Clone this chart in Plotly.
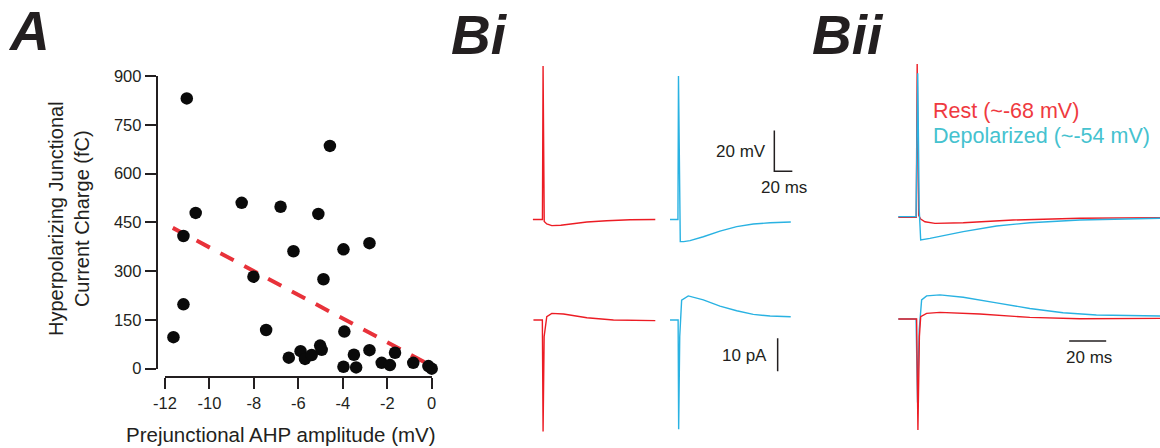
import plotly.graph_objects as go

W, H = 1160, 448

# ---------------- Panel A data ----------------
ahp_mv = [-11.02, -4.58, -8.55, -6.80, -10.62, -5.10, -11.17, -2.80, -6.22, -3.97,
          -8.02, -4.87, -11.17, -11.62, -7.45, -3.93, -6.43, -5.90, -5.70, -5.40,
          -5.02, -4.95, -3.97, -3.50, -3.40, -2.80, -2.25, -1.88, -1.65, -0.83,
          -0.15, 0.0]
charge_fc = [831, 685, 510, 498, 479, 476, 408, 386, 361, 367,
             283, 275, 198, 97, 119, 114, 34, 54, 30, 42,
             71, 58, 6, 43, 4, 57, 18, 11, 49, 18,
             8, 0]
fit_x = [-11.65, -0.15]
fit_y = [433, 14]
x_ticks = [-12, -10, -8, -6, -4, -2, 0]
x_tick_labels = ["-12", "-10", "-8", "-6", "-4", "-2", "0"]
y_ticks = [0, 150, 300, 450, 600, 750, 900]

# ---------------- Panel Bi data (ms, mV relative to baseline, pA) ----------------
bi_rest_v_t = [-11, -2, -0.4, 0.3, 1.0, 1.6, 4.4, 10, 20, 30, 49, 71, 97, 125]
bi_rest_v = [0, 0, 0, 75.6, 2, -1.0, -2.2, -3.0, -2.8, -2.2, -1.2, -0.6, -0.1, 0]
bi_dep_v_t = [-9.2, -1.8, -0.4, 0.2, 1.2, 2.2, 6, 13, 27.8, 46.3, 64.9, 83.3, 102, 125]
bi_dep_v = [0, 0, 0, 70.7, 5, -10.9, -10.9, -10.4, -8.5, -5.7, -3.5, -2.2, -1.6, -1.2]
bi_rest_i_t = [-10.4, -2.3, -0.5, 0.3, 1.5, 4.4, 10, 23, 49, 78.5, 125]
bi_rest_i = [0, 0, 0, -33.8, -5, 1.0, 2.0, 1.8, 0.7, 0, -0.2]
bi_dep_i_t = [-9.2, -1.8, -0.2, 0.4, 1.6, 3.7, 11.1, 27.8, 46.3, 64.9, 83.3, 102, 124.9]
bi_dep_i = [0, 0, 0, -33.1, -5, 6.0, 7.3, 6.1, 4.2, 2.8, 1.7, 1.2, 1.0]

# ---------------- Panel Bii data ----------------
bii_rest_v_t = [-10.1, -1.1, -0.4, 0.1, 0.9, 2.0, 4.3, 9.7, 25, 52, 88, 131.4]
bii_rest_v = [1.1, 1.1, 1.1, 76.6, 2, 0.2, -1.1, -1.9, -1.6, -0.25, 0.6, 0.9]
bii_dep_v_t = [-10.1, -0.5, 0.4, 1.2, 2.0, 7, 25, 43, 61, 88, 131.4]
bii_dep_v = [1.4, 1.4, 72, 5, -10.1, -9.3, -6.0, -3.2, -1.6, -0.25, 0.6]
bii_rest_i_t = [-10.1, -1.1, -0.2, 0.5, 1.3, 2.0, 5.2, 12.4, 34, 61, 88, 131.4]
bii_rest_i = [0.3, 0.3, 0.3, -33.3, -5, 1.0, 2.0, 2.3, 1.8, 0.8, 0.4, 0.5]
bii_dep_i_t = [-10.1, -0.5, 0.3, 1.2, 2.5, 5.2, 12.4, 25, 43, 61, 79, 97, 131.4]
bii_dep_i = [0.3, 0.3, -25, -3, 6.1, 7.3, 7.6, 6.9, 5.2, 3.5, 2.2, 1.5, 1.2]

# scale bars (values)
sb_v_t = [106.7, 106.7, 126.7]
sb_v = [43.8, 23.8, 23.8]
sb_i_t = [110.4, 110.4]
sb_i = [-5.5, -15.5]
sb_ms_t = [82.3, 102.3]
sb_ms_i = [-6.4, -6.4]

RED = "#ec1c24"
CYAN = "#29b2e2"
TXT = "#231f20"
FONT = "Liberation Sans, Arial, sans-serif"


def px(x):
    return x / W


def py(y):
    return 1 - y / H


fig = go.Figure()

# Panel A
fig.add_trace(go.Scatter(x=fit_x, y=fit_y, mode="lines", xaxis="x", yaxis="y",
                         line=dict(color="#e8323a", width=4, dash="15px,12px"),
                         showlegend=False, hoverinfo="skip"))
fig.add_trace(go.Scatter(x=ahp_mv, y=charge_fc, mode="markers", xaxis="x", yaxis="y",
                         marker=dict(color="#0a0a0a", size=12.5), cliponaxis=False,
                         showlegend=False))


def trace(t, v, xa, ya, color, w=1.4):
    fig.add_trace(go.Scatter(x=t, y=v, mode="lines", xaxis=xa, yaxis=ya,
                             line=dict(color=color, width=w), showlegend=False,
                             hoverinfo="skip", cliponaxis=False))


# Bi
trace(bi_rest_v_t, bi_rest_v, "x2", "y2", RED)
trace(bi_rest_i_t, bi_rest_i, "x2", "y3", RED)
trace(bi_dep_v_t, bi_dep_v, "x3", "y2", CYAN)
trace(bi_dep_i_t, bi_dep_i, "x3", "y3", CYAN)
# Bii
trace(bii_rest_v_t, bii_rest_v, "x4", "y2", RED)
trace(bii_dep_v_t, bii_dep_v, "x4", "y2", CYAN)
trace(bii_dep_i_t, bii_dep_i, "x4", "y3", CYAN)
trace(bii_rest_i_t, bii_rest_i, "x4", "y3", RED)
# scale bars
trace(sb_v_t, sb_v, "x3", "y2", TXT, 1.5)
trace(sb_i_t, sb_i, "x3", "y3", TXT, 1.5)
trace(sb_ms_t, sb_ms_i, "x4", "y3", TXT, 1.5)

hidden = dict(visible=False, showgrid=False, zeroline=False, fixedrange=True,
              automargin=False)

fig.update_layout(
    template="none",
    width=W, height=H, margin=dict(l=0, r=0, t=0, b=0, pad=0), autosize=False,
    paper_bgcolor="white", plot_bgcolor="rgba(0,0,0,0)",
    font=dict(family=FONT, color=TXT),
    xaxis=dict(domain=[px(165), px(431.7)], range=[-12, 0], anchor="free",
               position=py(377), tickvals=x_ticks, ticktext=x_tick_labels,
               ticks="outside", ticklen=11,
               tickwidth=1.5, tickcolor=TXT, showline=True, linecolor=TXT,
               linewidth=1.5, showgrid=False, zeroline=False, automargin=False,
               tickfont=dict(size=16.5, color=TXT, family=FONT)),
    yaxis=dict(domain=[py(368.7), py(76)], range=[0, 900], anchor="free",
               position=px(156.5), tickvals=y_ticks, ticks="outside", ticklen=11,
               tickwidth=1.5, tickcolor=TXT, showline=True, linecolor=TXT,
               linewidth=1.5, showgrid=False, zeroline=False, automargin=False,
               tickfont=dict(size=16.5, color=TXT, family=FONT)),
    xaxis2=dict(domain=[px(532.0), px(658.0)], range=[-12, 128], anchor="y2", **hidden),
    xaxis3=dict(domain=[px(667.5), px(793.5)], range=[-12, 128], anchor="y2", **hidden),
    xaxis4=dict(domain=[px(894.8), 1.0], range=[-12, 131.4], anchor="y2", **hidden),
    yaxis2=dict(domain=[py(260), py(40)], range=[-19.95, 88.42], anchor="x2", **hidden),
    yaxis3=dict(domain=[py(440), py(280)], range=[-36.36, 12.12], anchor="x2", **hidden),
)

ann = []
# Axis titles for A
ann.append(dict(x=px(69), y=py(219), xref="paper", yref="paper", showarrow=False,
                text="Hyperpolarizing Junctional<br>Current Charge (fC)", textangle=-90,
                font=dict(size=20, color=TXT, family=FONT), xanchor="center", yanchor="middle"))
ann.append(dict(x=px(281), y=py(434), xref="paper", yref="paper", showarrow=False,
                text="Prejunctional AHP amplitude (mV)",
                font=dict(size=20.5, color=TXT, family=FONT), xanchor="center", yanchor="middle"))
# panel letters
for label, xl, yc in [("A", 6, 31), ("Bi", 449, 35), ("Bii", 810, 35)]:
    ann.append(dict(x=px(xl), y=py(yc), xref="paper", yref="paper", showarrow=False,
                    text=label, xanchor="left", yanchor="middle",
                    font=dict(size=55, color=TXT, family=FONT, weight="bold", style="italic")))
# scale bar labels
ann.append(dict(x=99.7, y=33.3, xref="x3", yref="y2", text="20 mV", showarrow=False,
                xanchor="right", yanchor="middle", font=dict(size=17, color=TXT, family=FONT)))
ann.append(dict(x=116.9, y=16.0, xref="x3", yref="y2", text="20 ms", showarrow=False,
                xanchor="center", yanchor="middle", font=dict(size=17, color=TXT, family=FONT)))
ann.append(dict(x=100.8, y=-10.9, xref="x3", yref="y3", text="10 pA", showarrow=False,
                xanchor="right", yanchor="middle", font=dict(size=17, color=TXT, family=FONT)))
ann.append(dict(x=93, y=-11.3, xref="x4", yref="y3", text="20 ms", showarrow=False,
                xanchor="center", yanchor="middle", font=dict(size=17, color=TXT, family=FONT)))
# legend texts
ann.append(dict(x=7.5, y=53.6, xref="x4", yref="y2", text="Rest (~-68 mV)", showarrow=False,
                xanchor="left", yanchor="middle", font=dict(size=21.5, color="#ef3a3f", family=FONT)))
ann.append(dict(x=7.5, y=41.1, xref="x4", yref="y2", text="Depolarized (~-54 mV)", showarrow=False,
                xanchor="left", yanchor="middle", font=dict(size=21.5, color="#45c2cf", family=FONT)))

fig.update_layout(annotations=ann)

fig.write_html("out.html")
